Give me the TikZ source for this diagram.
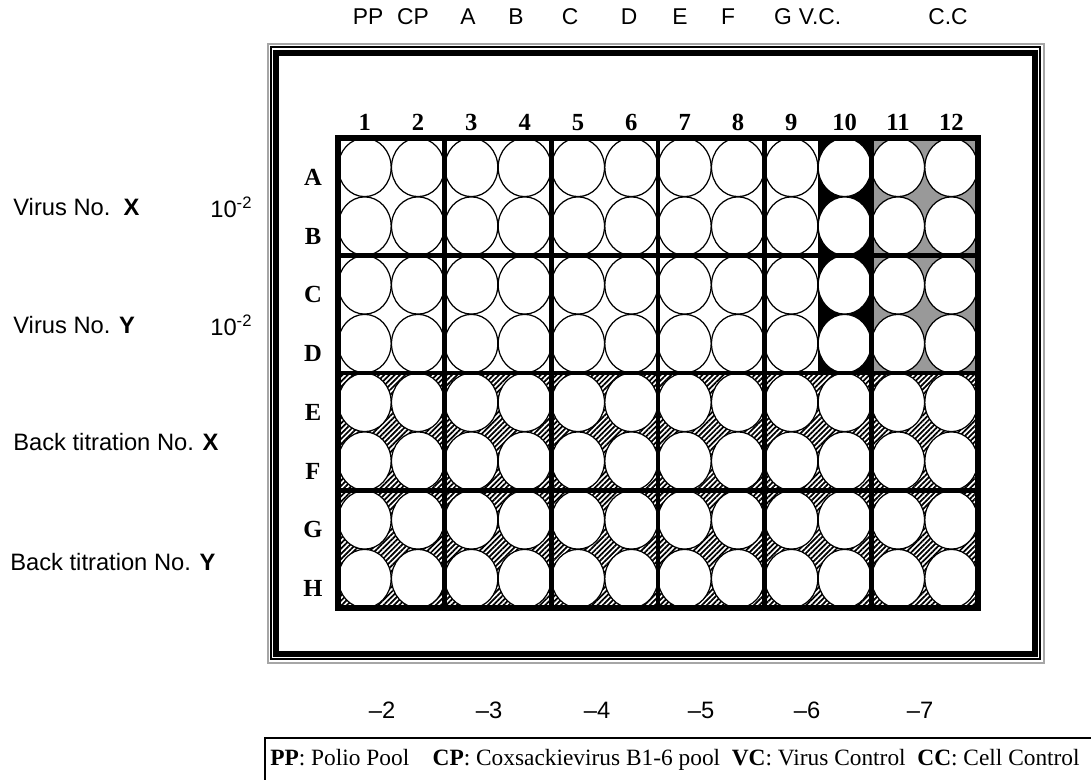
\documentclass[tikz,border=0pt]{standalone}
\usepackage{fontspec}
\setmainfont{Liberation Serif}
\setsansfont{Liberation Sans}
\usetikzlibrary{patterns.meta}

\begin{document}
\begin{tikzpicture}[x=0.02cm,y=-0.02cm,
 lab/.style={font=\sffamily\fontsize{13.5}{15}\selectfont,inner sep=0pt},
 hlab/.style={font=\sffamily\fontsize{13}{15}\selectfont,inner sep=0pt,anchor=base},
 num/.style={font=\bfseries\fontsize{14}{16}\selectfont,inner sep=0pt,anchor=base},
 well/.style={draw,fill=white,line width=0.7pt},
 sep/.style={line width=2.8pt}]
\useasboundingbox (0,0) rectangle (1091,780);
% plate frame
\draw[black!35,line width=0.9pt] (268,44) rectangle (1044,663);
\draw[line width=0.7pt] (271,47) rectangle (1040,659);
\draw[line width=3.4pt] (276,53) rectangle (1035,654);
% backgrounds
\fill[pattern={Lines[angle=45,distance=2.1pt,line width=1pt]}] (338,373) rectangle (978,608);
\fill (818,138) rectangle (871.3,373);
\fill[black!40] (871.3,138) rectangle (978,373);
% wells
\foreach \c in {1,...,12}
 \foreach \r in {1,...,8}
  \filldraw[well] ({338+53.333*(\c-0.5)},{138+58.75*(\r-0.5)}) ellipse [x radius=0.53cm,y radius=0.585cm];
\draw[line width=3.4pt] (338,138) rectangle (978,608);
\foreach \x in {444.7,551.3,658,764.7,871.3} \draw[sep] (\x,138) -- (\x,608);
\foreach \y in {255.5,373,490.5} \draw[sep] (338,\y) -- (978,\y);
% labels
\foreach \c in {1,...,12} \node[num] (c\c) at ({338+53.333*(\c-0.5)},131) {\c};
\foreach \r [count=\j] in {A,B,C,D,E,F,G,H} \node[num] (r\r) at (313,{156+58.75*(\j-0.5)}) {\r};
\foreach \t/\x [count=\i] in {PP/368,CP/413,A/468,B/516,C/570,D/629,E/680,F/728,G/783,V.C./820,C.C/948}
 \node[hlab] (h\i) at (\x,25) {\t};
\foreach \t/\x [count=\i] in {2/382,3/489,4/597,5/701,6/807,7/920}
 \node[lab] (d\i) at (\x,710) {--\t};
\node[lab,anchor=west] (vx) at (13,207) {Virus No.\ \ \textbf{X}};
\node[lab,anchor=west] (vxd) at (210,207) {10\textsuperscript{-2}};
\node[lab,anchor=west] (vy) at (13,325) {Virus No. \textbf{Y}};
\node[lab,anchor=west] (vyd) at (210,325) {10\textsuperscript{-2}};
\node[lab,anchor=west] (bx) at (13,442) {Back titration No. \textbf{X}};
\node[lab,anchor=west] (by) at (10,562) {Back titration No. \textbf{Y}};
% key
\coordinate (k1) at (1091,738);
\coordinate (k2) at (265,738);
\coordinate (k3) at (265,780);
\draw[line width=0.8pt] (k1) -- (k2) -- (k3);
\node[font=\fontsize{13.3}{15}\selectfont,inner sep=0pt,anchor=west] (key) at (270,760)
 {\textbf{PP}: Polio Pool\quad \textbf{CP}: Coxsackievirus B1-6 pool\enspace \textbf{VC}: Virus Control\enspace \textbf{CC}: Cell Control};
\end{tikzpicture}
\end{document}
